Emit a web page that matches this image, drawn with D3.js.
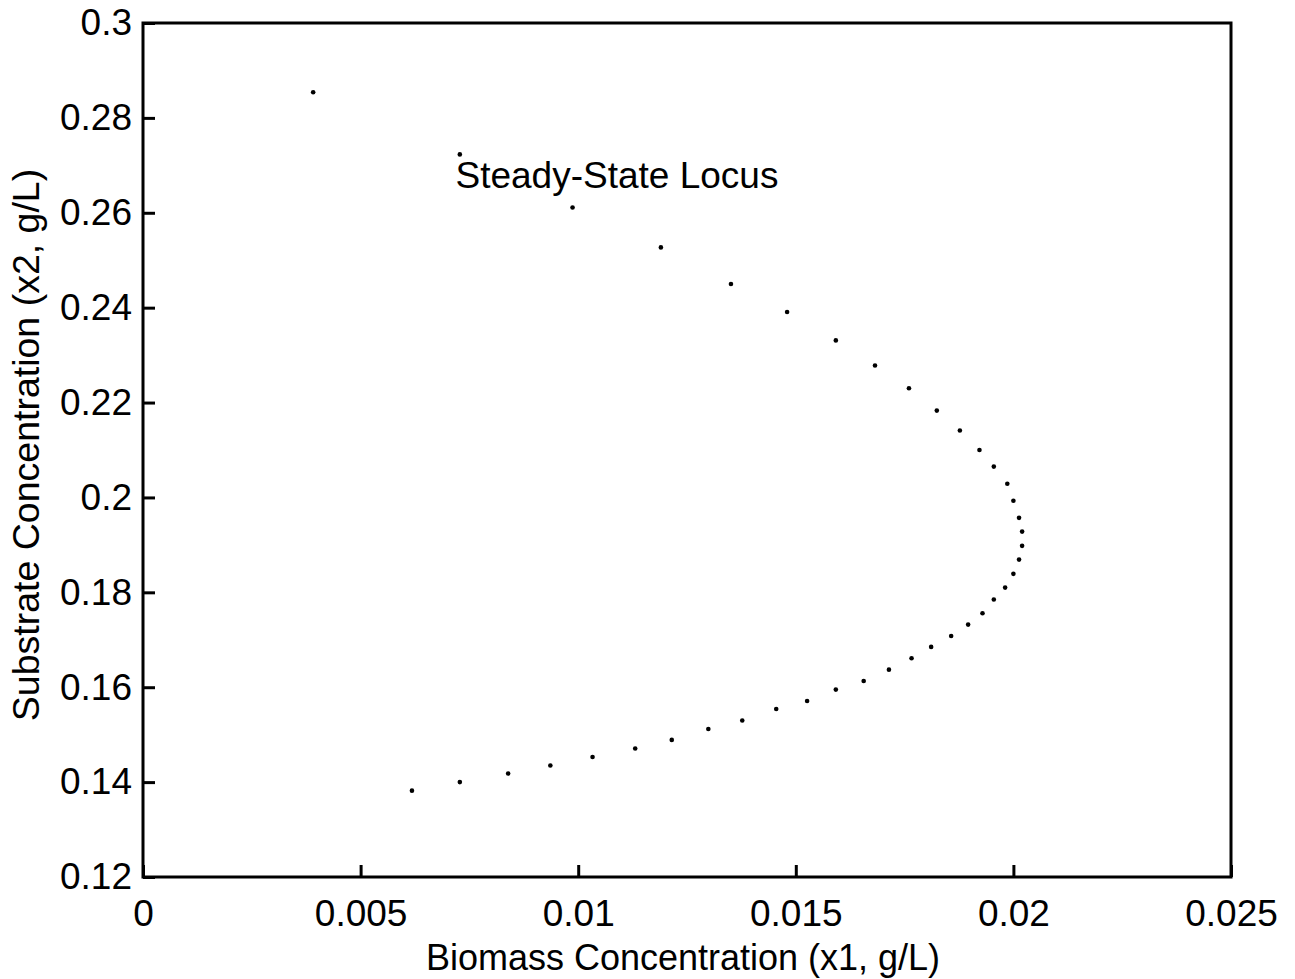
<!DOCTYPE html>
<html>
<head>
<meta charset="utf-8">
<script src="https://cdn.jsdelivr.net/npm/d3@7"></script>
<style>
  html, body { margin: 0; padding: 0; background: #fff; }
  svg { display: block; }
  text { font-family: "Liberation Sans", Arial, Helvetica, sans-serif; fill: #000; }
</style>
</head>
<body>
<svg id="chart" width="1295" height="979"></svg>
<script>
// Steady-state locus points (biomass x1, substrate x2), in g/L
const biomassX1 = [0.00391, 0.00728, 0.00987, 0.01190, 0.01351, 0.01480, 0.01592, 0.01682, 0.01760, 0.01824,
  0.01877, 0.01922, 0.01955, 0.01986, 0.02000, 0.02013, 0.02020, 0.02020, 0.02013, 0.02000,
  0.01981, 0.01955, 0.01929, 0.01896, 0.01857, 0.01811, 0.01766, 0.01714, 0.01656, 0.01592,
  0.01526, 0.01455, 0.01377, 0.01299, 0.01215, 0.01131, 0.01033, 0.00936, 0.00839, 0.00728, 0.00618];
const substrateX2 = [0.2854, 0.2723, 0.2611, 0.2527, 0.2450, 0.2391, 0.2331, 0.2278, 0.2230, 0.2183,
  0.2141, 0.2100, 0.2065, 0.2029, 0.1993, 0.1957, 0.1928, 0.1898, 0.1869, 0.1839,
  0.1810, 0.1785, 0.1756, 0.1732, 0.1708, 0.1685, 0.1661, 0.1637, 0.1613, 0.1595,
  0.1571, 0.1554, 0.1530, 0.1512, 0.1489, 0.1471, 0.1453, 0.1435, 0.1418, 0.1400, 0.1382];

const xTicks = [0, 0.005, 0.01, 0.015, 0.02, 0.025];
const xTickLabels = ["0", "0.005", "0.01", "0.015", "0.02", "0.025"];
const yTicks = [0.12, 0.14, 0.16, 0.18, 0.2, 0.22, 0.24, 0.26, 0.28, 0.3];
const yTickLabels = ["0.12", "0.14", "0.16", "0.18", "0.2", "0.22", "0.24", "0.26", "0.28", "0.3"];

const xDomain = [0, 0.025];
const yDomain = [0.12, 0.3];
const xTitle = "Biomass Concentration (x1, g/L)";
const yTitle = "Substrate Concentration (x2, g/L)";
const annotation = { text: "Steady-State Locus", x: 0.00718, y: 0.2652 };

(function () {
const svg = d3.select("#chart");
const mLeft = 143, mRight = 1231, mTop = 23, mBottom = 877;
const fontSize = 37;

const x = d3.scaleLinear().domain(xDomain).range([mLeft, mRight]);
const y = d3.scaleLinear().domain(yDomain).range([mBottom, mTop]);

const xAxis = d3.axisBottom(x).tickValues(xTicks)
  .tickFormat((d, i) => xTickLabels[i]).tickSizeInner(-12).tickSizeOuter(0).tickPadding(23);
const yAxis = d3.axisLeft(y).tickValues(yTicks)
  .tickFormat((d, i) => yTickLabels[i]).tickSizeInner(-12).tickSizeOuter(0).tickPadding(11);

const gx = svg.append("g").attr("transform", `translate(0,${mBottom})`).call(xAxis);
const gy = svg.append("g").attr("transform", `translate(${mLeft},0)`).call(yAxis);
[gx, gy].forEach(g => {
  g.select(".domain").remove();
  g.selectAll(".tick line").attr("stroke", "#000").attr("stroke-width", 3);
  g.selectAll(".tick text").attr("font-size", fontSize)
    .attr("font-family", "'Liberation Sans', Arial, sans-serif").attr("fill", "#000");
});
gx.selectAll(".tick text").attr("dy", "0.71em");

// frame
svg.append("rect")
  .attr("x", mLeft).attr("y", mTop)
  .attr("width", mRight - mLeft).attr("height", mBottom - mTop)
  .attr("fill", "none").attr("stroke", "#000").attr("stroke-width", 3);

// points
svg.append("g").selectAll("circle")
  .data(biomassX1.map((v, i) => [v, substrateX2[i]]))
  .join("circle")
  .attr("cx", d => x(d[0]))
  .attr("cy", d => y(d[1]))
  .attr("r", 2.3)
  .attr("fill", "#000");

// annotation
svg.append("text")
  .attr("x", x(annotation.x)).attr("y", y(annotation.y))
  .attr("font-size", fontSize)
  .text(annotation.text);

// axis titles
svg.append("text")
  .attr("x", 683).attr("y", 970)
  .attr("text-anchor", "middle").attr("font-size", 36)
  .text(xTitle);

svg.append("text")
  .attr("transform", `translate(39,445) rotate(-90)`)
  .attr("text-anchor", "middle").attr("font-size", 37.5)
  .text(yTitle);
})();
</script>
</body>
</html>
